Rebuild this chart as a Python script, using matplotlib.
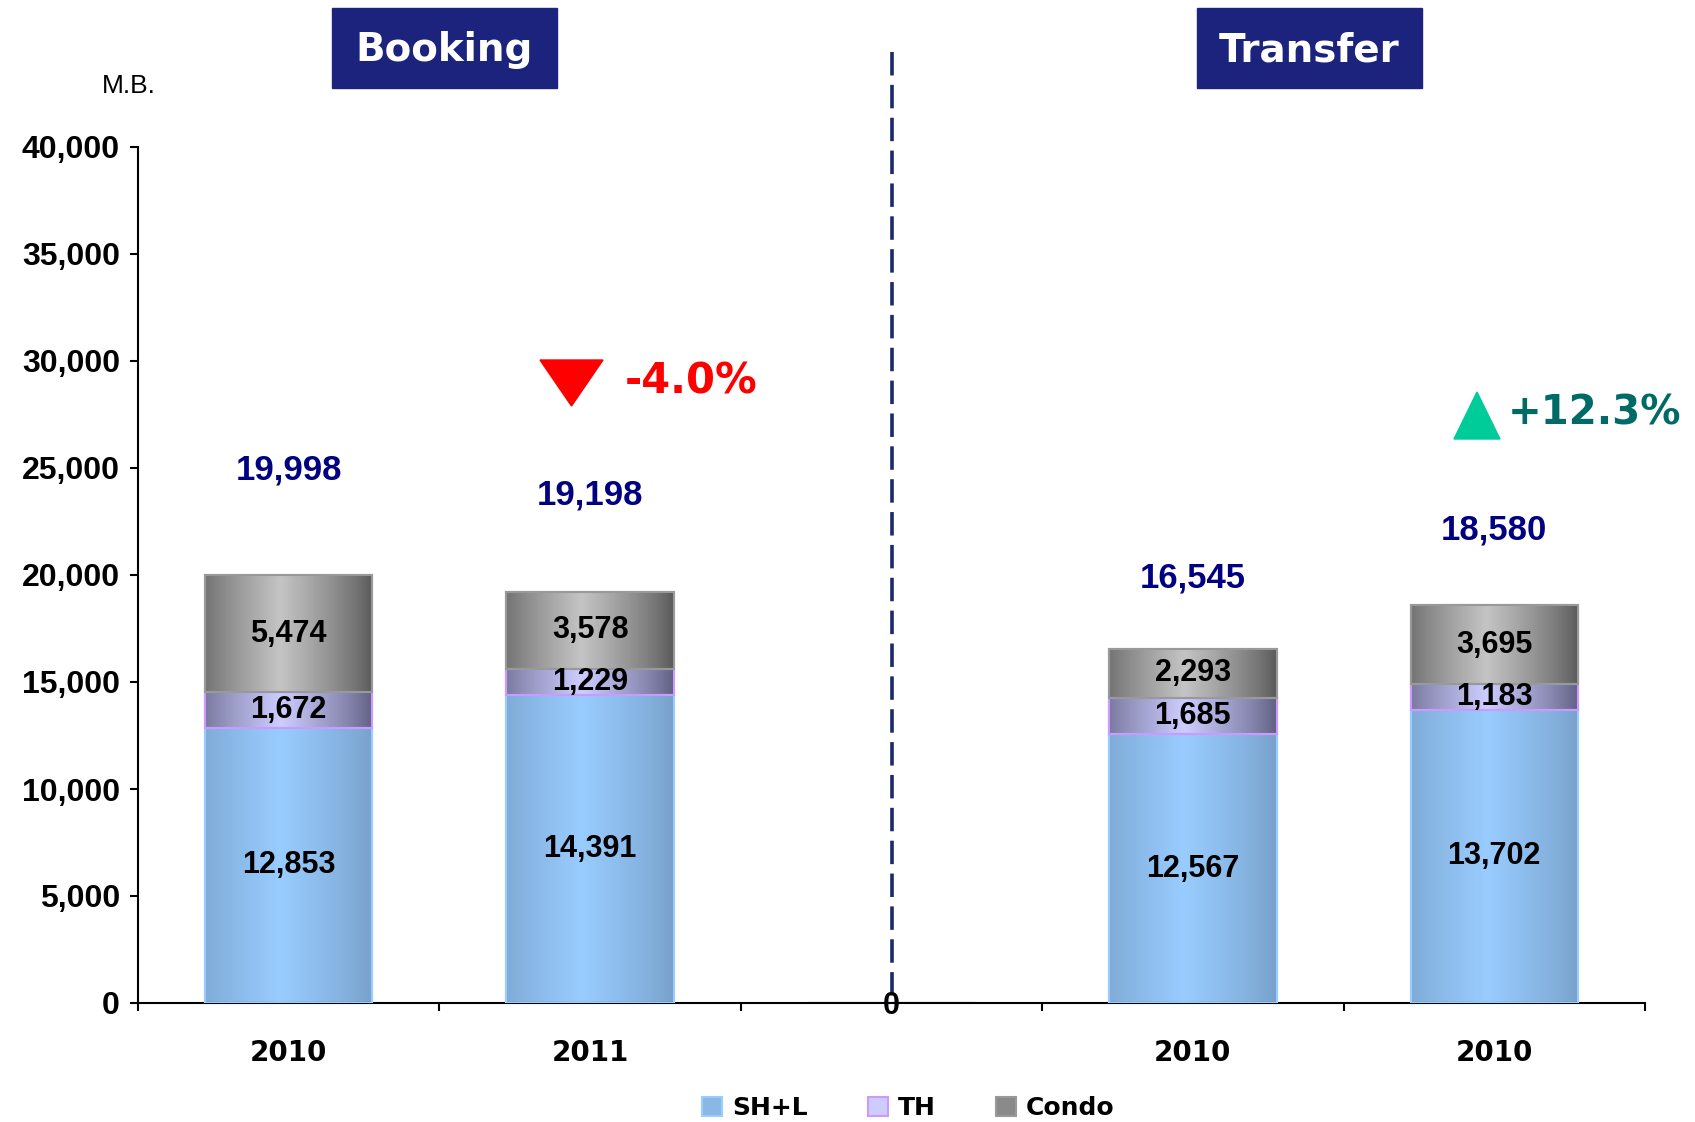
import numpy as np
import matplotlib
matplotlib.use("Agg")
from matplotlib import pyplot as plt
from matplotlib import colors
from matplotlib.patches import Rectangle, Patch, Polygon

# Data (million baht)
categories = ["2010", "2011", "", "2010", "2010"]
sh_l = [12853, 14391, 0, 12567, 13702]
th = [1672, 1229, 0, 1685, 1183]
condo = [5474, 3578, 0, 2293, 3695]
totals = [19998, 19198, 0, 16545, 18580]
series_names = ["SH+L", "TH", "Condo"]

# where the navy totals sit above the bars (as in the original slide)
total_label_gap = [4900, 4540, 0, 3300, 3540]

W, H = 1695, 1122
fig = plt.figure(figsize=(W / 100, H / 100), dpi=100)
ax = fig.add_axes([138 / W, 1 - 1003 / H, (1645 - 138) / W, (1003 - 147) / H])

narrow = ["Liberation Sans Narrow", "Liberation Sans", "DejaVu Sans"]
arial = ["Liberation Sans", "DejaVu Sans"]

# colours: (dark edge, light centre, outline)
styles = [
    ("#77a0c9", "#99ccff", "#99ccff"),
    ("#5e5e80", "#ccccff", "#cc99ff"),
    ("#585858", "#c4c4c4", "#999999"),
]

x = np.arange(len(categories))
bar_w = 0.556

# horizontal "cylinder" shading profile
t = np.linspace(0, 1, 200)
shade = np.clip(1 - np.abs(t - 0.45) / 0.55, 0, 1) ** 0.8

bottom = np.zeros(len(categories))
for vals, (dark, light, edge) in zip([sh_l, th, condo], styles):
    bars = ax.bar(x, vals, bar_w, bottom=bottom, color=light, edgecolor=edge,
                  linewidth=1.5, zorder=2)
    cmap = colors.LinearSegmentedColormap.from_list("g", [dark, light])
    for b, v in zip(bars, vals):
        if v == 0:
            continue
        x0, y0 = b.get_x(), b.get_y()
        im = ax.imshow(shade[np.newaxis, :], cmap=cmap, vmin=0, vmax=1,
                       extent=[x0, x0 + b.get_width(), y0, y0 + b.get_height()],
                       aspect="auto", zorder=2.5, interpolation="bilinear")
        im.set_clip_path(b)
        # redraw outline above the gradient
        ax.add_patch(Rectangle((x0, y0), b.get_width(), b.get_height(),
                               fill=False, edgecolor=edge, linewidth=1.5, zorder=3))
        ax.text(b.get_x() + b.get_width() / 2, y0 + v / 2, f"{v:,}",
                ha="center", va="center", fontsize=22, fontweight="bold",
                family=narrow, color="black", zorder=4)
    bottom += np.array(vals)

# totals above bars
for xi, tot, gap in zip(x, totals, total_label_gap):
    if tot == 0:
        ax.text(xi, -150, "0", ha="center", va="center", fontsize=22,
                fontweight="bold", family=arial, zorder=5, clip_on=False)
        continue
    ax.text(xi, tot + gap, f"{tot:,}", ha="center", va="center", fontsize=25,
            fontweight="bold", family=arial, color="#000080")

# dashed separator (drawn top-down so a dash starts at the top)
ax.plot([2, 2], [44450, 0], color="#1b2a6b", linewidth=2.6,
        linestyle=(0, (6.5, 2.6)), clip_on=False, zorder=1)

ax.set_xlim(-0.5, len(categories) - 0.5)
ax.set_ylim(0, 40000)
ax.set_yticks(np.arange(0, 40001, 5000))
ax.set_yticklabels([f"{v:,}" for v in range(0, 40001, 5000)],
                   fontsize=23, fontweight="bold", family=arial)
ax.set_xticks(np.arange(-0.5, len(categories), 1.0))
ax.set_xticklabels([])
ax.set_xticks(x, minor=True)
ax.set_xticklabels(categories, minor=True, fontsize=20, fontweight="bold")
ax.tick_params(axis="x", which="minor", length=0, pad=26)
ax.tick_params(axis="x", which="major", length=6, width=1.5, direction="out")
ax.tick_params(axis="y", length=6, width=1.5, pad=7)
for s in ["top", "right"]:
    ax.spines[s].set_visible(False)
for s in ["left", "bottom"]:
    ax.spines[s].set_linewidth(1.5)

# unit label
fig.text(102 / W, 1 - 86 / H, "M.B.", fontsize=19, family=arial, va="center")

# section headers
for label, left in [("Booking", 332), ("Transfer", 1197)]:
    fig.patches.append(Rectangle((left / W, 1 - 88 / H), 225 / W, 80 / H,
                                 transform=fig.transFigure, color="#1c237c"))
    fig.text((left + 112.5) / W, 1 - 50 / H, label, color="white", fontsize=28,
             fontweight="bold", ha="center", va="center")

# change indicators
fig.patches.append(Polygon([[540 / W, 1 - 360 / H], [603 / W, 1 - 360 / H],
                            [571.5 / W, 1 - 406 / H]], closed=True,
                           transform=fig.transFigure, color="#ff0000"))
fig.text(625 / W, 1 - 381 / H, "-4.0%", color="#ff0000", fontsize=30,
         fontweight="bold", va="center")
fig.patches.append(Polygon([[1454 / W, 1 - 439 / H], [1500 / W, 1 - 439 / H],
                            [1477 / W, 1 - 392 / H]], closed=True,
                           transform=fig.transFigure, color="#00cc99"))
fig.text(1508 / W, 1 - 413 / H, "+12.3%", color="#006b66", fontsize=29,
         fontweight="bold", va="center")

handles = [Patch(facecolor=light, edgecolor=edge, linewidth=1.5)
           for (dark, light, edge) in styles]
handles[0].set_facecolor("#8ab8e6")
handles[2].set_facecolor("#8a8a8a")
fig.legend(handles, series_names, loc="center", bbox_to_anchor=(0.536, 1 - 1108 / H),
           ncol=3, frameon=False, prop={"size": 18, "weight": "bold"},
           handlelength=0.8, handleheight=0.8, handletextpad=0.4,
           columnspacing=2.4)

fig.savefig("out.png", dpi=100)
